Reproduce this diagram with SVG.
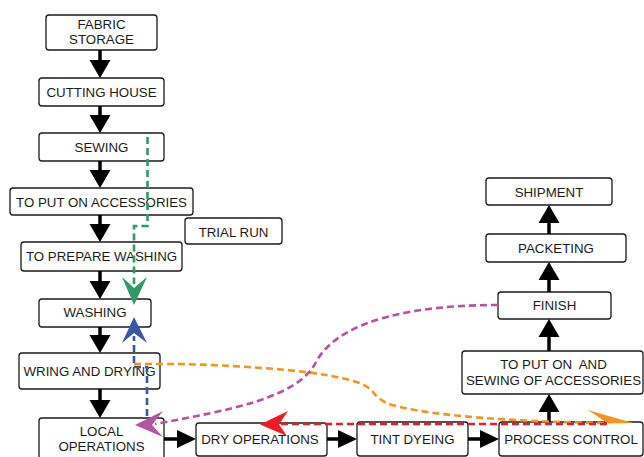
<svg xmlns="http://www.w3.org/2000/svg" width="644" height="457" viewBox="0 0 644 457">
<style>
.box{fill:#fff;stroke:#1a1a1a;stroke-width:1.3}
.t{font-family:"Liberation Sans",Arial,sans-serif;font-size:13.3px;fill:#1a1a1a;text-anchor:middle}
.sh{stroke:#000;stroke-width:3.5;fill:none}
.hd{fill:#000}
.d{fill:none;stroke-width:2.6;stroke-dasharray:7 4}
</style>
<rect width="644" height="457" fill="#fff"/>
<g id="nodes">
<g id="fabric"><rect class="box" x="46" y="15" width="111" height="35" rx="3"/><text class="t" x="101.5" y="28.5">FABRIC</text><text class="t" x="101.5" y="44.3">STORAGE</text></g>
<g id="cutting"><rect class="box" x="39" y="78" width="125" height="28" rx="3"/><text class="t" x="101.5" y="97">CUTTING HOUSE</text></g>
<g id="sewing"><rect class="box" x="39" y="133" width="125" height="28" rx="3"/><text class="t" x="101.5" y="152">SEWING</text></g>
<g id="accessories"><rect class="box" x="10" y="188" width="183" height="27" rx="3"/><text class="t" x="101.5" y="207">TO PUT ON ACCESSORIES</text></g>
<g id="trialrun"><rect class="box" x="185" y="218" width="97" height="26" rx="3"/><text class="t" x="233.5" y="237">TRIAL RUN</text></g>
<g id="prepare"><rect class="box" x="21" y="242" width="161" height="29" rx="3"/><text class="t" x="101.5" y="261">TO PREPARE WASHING</text></g>
<g id="washing"><rect class="box" x="39" y="299" width="112" height="28" rx="3"/><text class="t" x="95" y="317">WASHING</text></g>
<g id="wring"><rect class="box" x="19" y="353" width="141" height="36" rx="3"/><text class="t" x="89.5" y="375.5">WRING AND DRYING</text></g>
<g id="local"><rect class="box" x="39" y="418" width="125" height="50" rx="3"/><text class="t" x="101.5" y="435.5">LOCAL</text><text class="t" x="101.5" y="450.5">OPERATIONS</text></g>
<g id="dry"><rect class="box" x="196" y="423" width="131" height="33" rx="3"/><text class="t" x="260" y="444">DRY OPERATIONS</text></g>
<g id="tint"><rect class="box" x="357" y="422" width="111" height="34" rx="3"/><text class="t" x="412.5" y="444">TINT DYEING</text></g>
<g id="process"><rect class="box" x="499" y="422" width="144" height="34" rx="3"/><text class="t" x="571" y="444">PROCESS CONTROL</text></g>
<g id="putonsew"><rect class="box" x="462" y="351" width="181" height="43" rx="3"/><text class="t" x="553.5" y="369" xml:space="preserve">TO PUT ON  AND</text><text class="t" x="553.5" y="385">SEWING OF ACCESSORIES</text></g>
<g id="finish"><rect class="box" x="498" y="292" width="113" height="27" rx="3"/><text class="t" x="554.5" y="310">FINISH</text></g>
<g id="packeting"><rect class="box" x="486" y="234" width="140" height="28" rx="3"/><text class="t" x="556" y="253">PACKETING</text></g>
<g id="shipment"><rect class="box" x="486" y="178" width="126" height="27" rx="3"/><text class="t" x="549" y="197">SHIPMENT</text></g>
</g>
<g id="connectors">
<!-- left column down arrows -->
<path class="sh" d="M100,50V62 M100,106V116 M100,161V171 M100,215V225 M100,271V282 M100,327V336 M100,389V401"/>
<path class="hd" d="M89.5,60H110.5L100,78Z M89.5,115H110.5L100,133Z M89.5,170H110.5L100,188Z M89.5,224H110.5L100,242Z M89.5,281H110.5L100,299Z M89.5,335H110.5L100,353Z M89.5,400H110.5L100,418Z"/>
<!-- bottom row right arrows -->
<path class="sh" d="M164,439H178 M327,439H339 M468,439H481"/>
<path class="hd" d="M177,430V448L196,439Z M338,430V448L357,439Z M480,430V448L499,439Z"/>
<!-- right column up arrows -->
<path class="sh" d="M549,422V410 M549,351V336 M549,292V279 M549,234V221"/>
<path class="hd" d="M538.5,412H559.5L549,394Z M538.5,337H559.5L549,319Z M538.5,280H559.5L549,262Z M538.5,223H559.5L549,205Z"/>
<!-- green -->
<path class="d" stroke="#2e9a68" d="M147.5,137V226H134V284"/>
<polygon fill="#2e9a68" points="134,305 122,277 134,288 147,277"/>
<!-- blue -->
<path class="d" stroke="#3b56a6" d="M147,416V367H134V336"/>
<polygon fill="#3b56a6" points="134,317 122,343 134,333 147,343"/>
<!-- orange -->
<path class="d" stroke="#f7941d" d="M134,364H180C250,366 330,371 362,384C378,392 372,398 392,405C430,416 520,422 608,423"/>
<polygon fill="#f7941d" points="588,410 633,423 608,423.5"/>
<!-- red -->
<path class="d" stroke="#ed1c24" d="M607,424H280"/>
<polygon fill="#ed1c24" points="260,424.5 288,411 279,424.5 287,436"/>
<!-- magenta -->
<path class="d" stroke="#b4539f" d="M498,305C420,305 340,318 316,362C298,398 230,410 155,424"/>
<polygon fill="#b4539f" points="135,425 163,411 152,425 163,437"/>
</g>
</svg>
